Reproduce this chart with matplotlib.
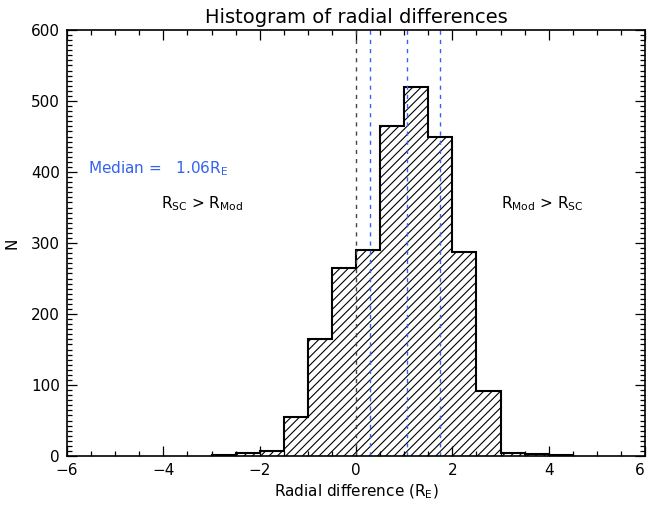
import numpy as np
import matplotlib
matplotlib.use("Agg")
import matplotlib.pyplot as plt
from matplotlib.ticker import MultipleLocator

# histogram of radial differences, bins of 0.5 R_E
bin_edges = np.arange(-3.0, 4.51, 0.5)
counts = [1, 4, 7, 55, 165, 265, 290, 465, 520, 450, 287, 91, 4, 3, 1]

# quartiles of the distribution
zero_line = 0.0
quartiles = [0.29, 1.06, 1.75]
median_value = 1.06

blue = "#3462f0"

plt.rcParams["hatch.linewidth"] = 0.8
plt.rcParams["font.family"] = "DejaVu Sans"

fig = plt.figure(figsize=(6.48, 5.05), dpi=100)
ax = fig.add_axes([0.1034, 0.097, 0.892, 0.8436])

widths = np.diff(bin_edges)
ax.bar(bin_edges[:-1], counts, width=widths, align="edge", facecolor="none",
       edgecolor="black", linewidth=0, hatch="////")
ax.stairs(counts, bin_edges, color="black", linewidth=1.5, baseline=0)

ax.axvline(zero_line, color="#444444", lw=1.0, dashes=(3, 3.6))
for q in quartiles:
    ax.axvline(q, color=blue, lw=1.0, dashes=(3, 3.6))

ax.set_xlim(-6, 6)
ax.set_ylim(0, 600)
ax.xaxis.set_major_locator(MultipleLocator(2))
ax.xaxis.set_minor_locator(MultipleLocator(0.5))
ax.yaxis.set_major_locator(MultipleLocator(100))
ax.yaxis.set_minor_locator(MultipleLocator(100 / 14))
ax.tick_params(which="both", direction="in", top=True, right=True,
               labelsize=11, width=0.9)
ax.tick_params(which="major", length=7)
ax.tick_params(which="minor", length=3.5)
ax.tick_params(axis="x", pad=5)
ax.tick_params(axis="y", pad=5)
for s in ax.spines.values():
    s.set_linewidth(1.2)

ax.set_title("Histogram of radial differences", fontsize=14, pad=5)
ax.set_xlabel(r"Radial difference (R$_\mathrm{E}$)", fontsize=11, labelpad=3)
ax.set_ylabel("N", fontsize=11, labelpad=8)

ax.text(-5.57, 405, r"Median =   %.2fR$_\mathrm{E}$" % median_value,
        color=blue, fontsize=11, va="center", ha="left")
ax.text(-4.04, 356, r"R$_\mathrm{SC}$ > R$_\mathrm{Mod}$",
        color="black", fontsize=11, va="center", ha="left")
ax.text(3.02, 356, r"R$_\mathrm{Mod}$ > R$_\mathrm{SC}$",
        color="black", fontsize=11, va="center", ha="left")

# keep the outermost x label inside the figure
fig.canvas.draw()
for tick in ax.xaxis.get_major_ticks():
    if np.isclose(tick.get_loc(), 6):
        tick.label1.set_horizontalalignment("right")
        tick.label1.set_x(6)

fig.savefig("out.png", dpi=100)
